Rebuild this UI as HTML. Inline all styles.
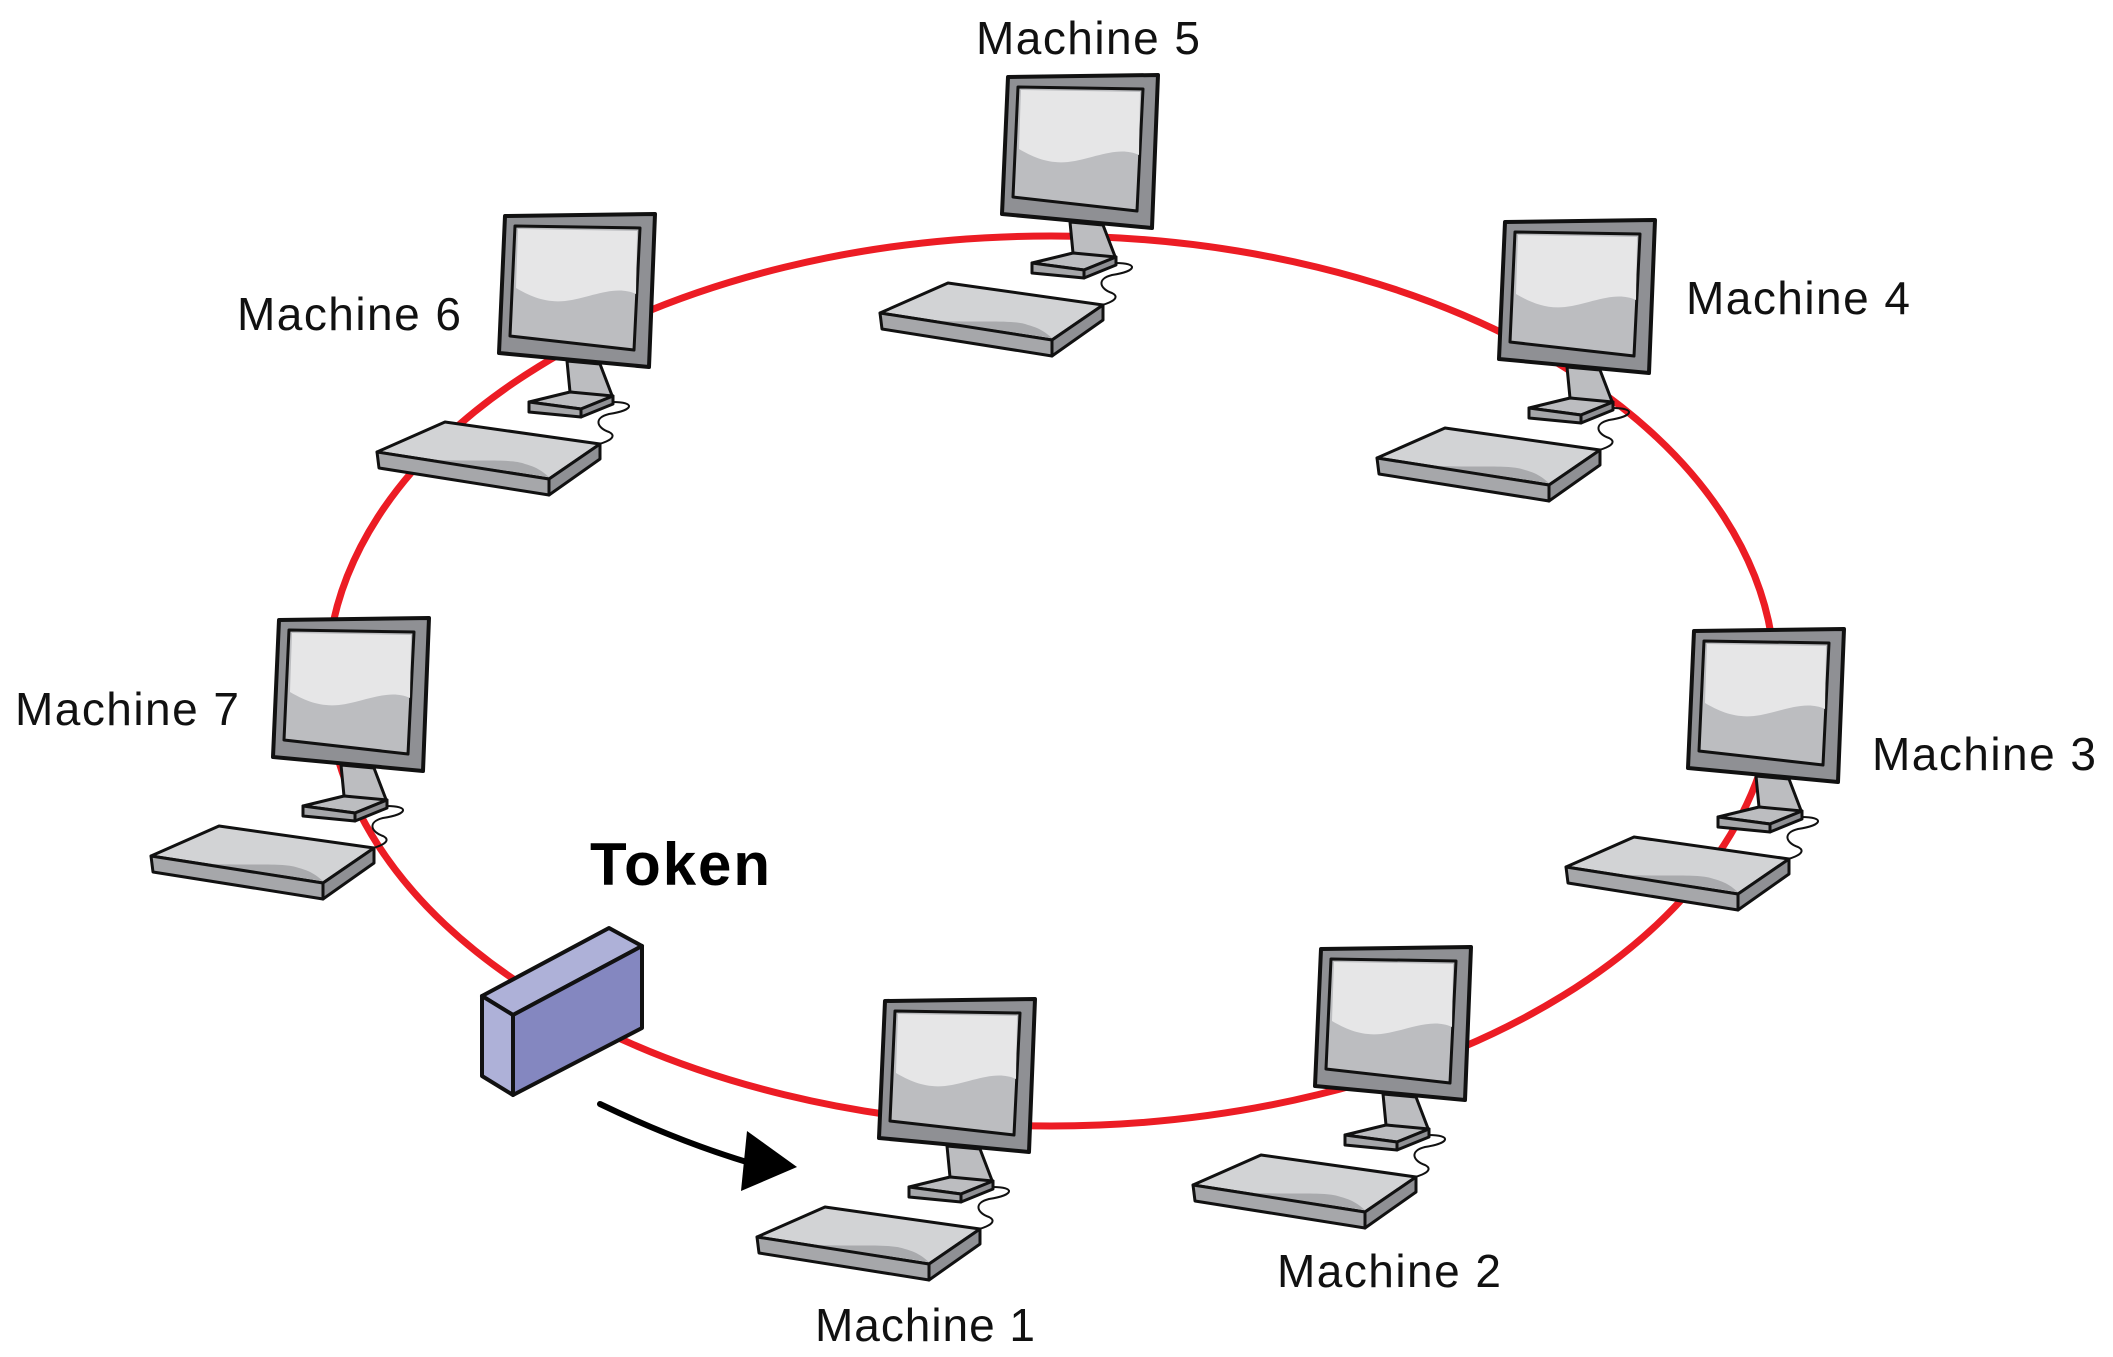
<!DOCTYPE html>
<html><head><meta charset="utf-8"><style>html,body{margin:0;padding:0;background:#fff}svg{display:block}</style></head>
<body>
<svg width="2113" height="1357" viewBox="0 0 2113 1357" xmlns="http://www.w3.org/2000/svg">
<defs>
<g id="pc" stroke="#111" stroke-linejoin="round">
  <path d="M108,186 C130,186 130,194 104,198 C88,202 92,212 104,216 C116,222 96,230 70,232" fill="none" stroke-width="2"/>
  <polygon points="0,0 150,-2 144,151 -6,137" fill="#8f9094" stroke-width="4"/>
  <polygon points="10,10 135,12 129,134 5,120" fill="#bcbdc0" stroke-width="3"/>
  <path d="M13,13 L132,15 L131,78 C110,68 85,82 60,85 C40,87 25,80 11,72 Z" fill="#e6e6e7" stroke="none"/>
  <polygon points="62,145 95,148 108,182 65,176" fill="#bcbdc0" stroke-width="3"/>
  <polygon points="24,186 65,176 108,180 76,193" fill="#bcbdc0" stroke-width="3"/>
  <polygon points="24,186 76,193 76,201 24,196" fill="#a6a7aa" stroke-width="3"/>
  <polygon points="76,193 108,180 108,188 76,201" fill="#8f9094" stroke-width="3"/>
  <polygon points="-128,236 -60,206 95,228 44,263" fill="#d2d3d5" stroke-width="3"/>
  <path d="M-118,238 C-60,250 0,240 20,248 C35,252 40,258 44,261 L-128,236 Z" fill="#a9aaad" stroke="none"/>
  <polygon points="-128,236 44,263 44,279 -126,252" fill="#a6a7aa" stroke-width="3"/>
  <polygon points="44,263 95,228 95,243 44,279" fill="#8f9094" stroke-width="3"/>
</g>
</defs>
<ellipse cx="1051" cy="681" rx="724" ry="445" fill="none" stroke="#ec1c24" stroke-width="7"/>
<use href="#pc" transform="translate(1008,77)"/>
<use href="#pc" transform="translate(505,216)"/>
<use href="#pc" transform="translate(1505,222)"/>
<use href="#pc" transform="translate(1694,631)"/>
<use href="#pc" transform="translate(279,620)"/>
<use href="#pc" transform="translate(1321,949)"/>
<use href="#pc" transform="translate(885,1001)"/>
<g stroke="#111" stroke-width="4" stroke-linejoin="round">
  <polygon points="482,996 609,928 642,946 513,1015" fill="#aeb1d8"/>
  <polygon points="482,996 513,1015 513,1095 482,1076" fill="#aeb1d8"/>
  <polygon points="513,1015 642,946 642,1028 513,1095" fill="#8487c0"/>
</g>
<path d="M600,1104 C650,1128 700,1148 750,1163" fill="none" stroke="#000" stroke-width="6" stroke-linecap="round"/>
<polygon points="747,1131 797,1167 741,1191" fill="#000"/>
<g font-family="Liberation Sans, sans-serif" font-size="46" fill="#111">
  <text x="976" y="54" textLength="224">Machine 5</text>
  <text x="237" y="330" textLength="224">Machine 6</text>
  <text x="1686" y="314" textLength="224">Machine 4</text>
  <text x="1872" y="770" textLength="224">Machine 3</text>
  <text x="15" y="725" textLength="224">Machine 7</text>
  <text x="1277" y="1287" textLength="224">Machine 2</text>
  <text x="815" y="1341" textLength="220">Machine 1</text>
  <text x="590" y="885" font-size="60" font-weight="bold" textLength="180" fill="#000">Token</text>
</g>
</svg>
</body></html>
